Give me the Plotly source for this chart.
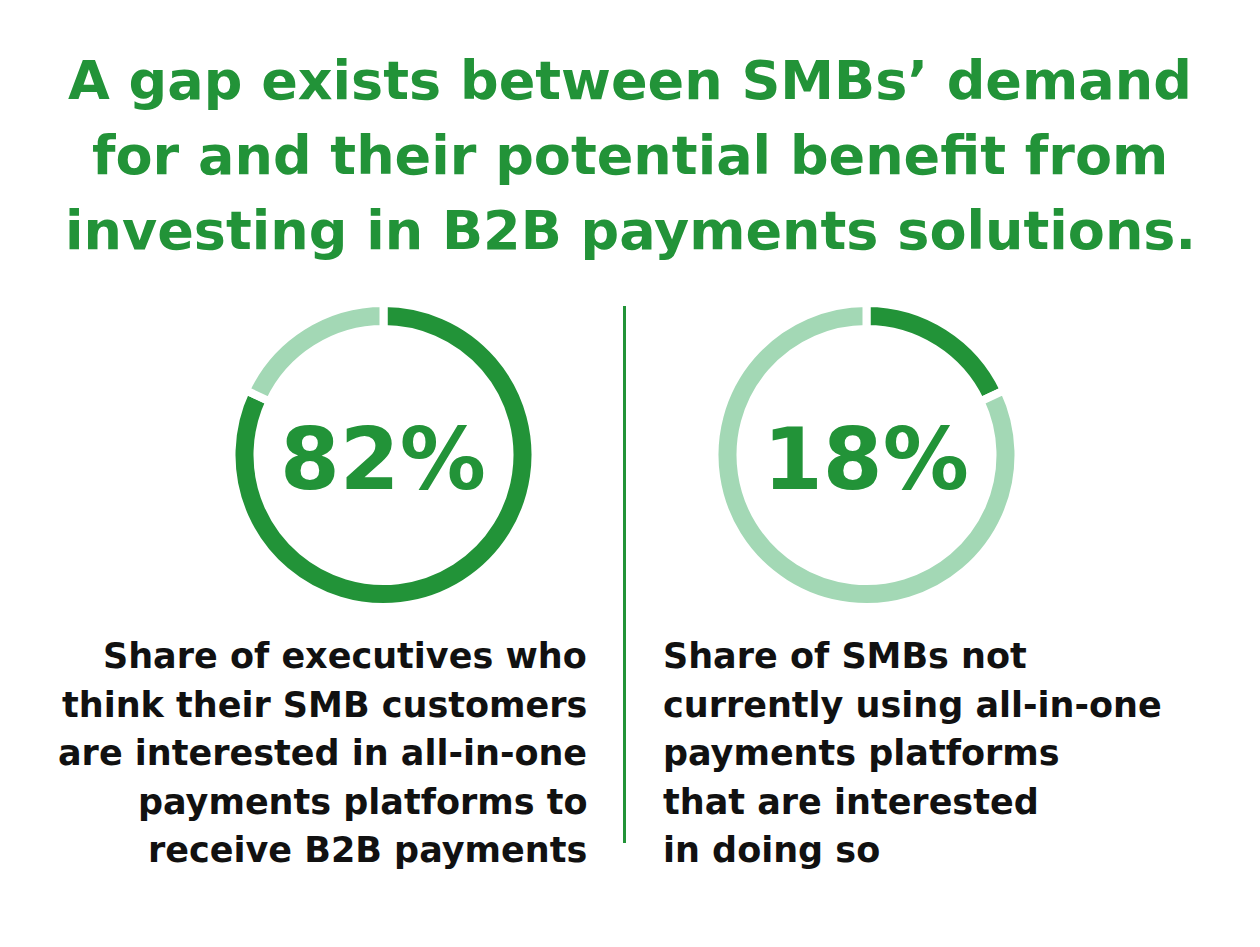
import plotly.graph_objects as go

# page body has an 8px default margin; figure sized to fit the window
PAGE_W, PAGE_H = 1260, 947
OFF = 8
W, H = PAGE_W - 2 * OFF, PAGE_H - 2 * OFF

# ---- data ----
donut_labels = ["Yes", "Other"]
left_values = [82, 18]
right_values = [18, 82]
left_pct = "82%"
right_pct = "18%"
title_lines = [
    "A gap exists between SMBs\u2019 demand",
    "for and their potential benefit from",
    "investing in B2B payments solutions.",
]
left_caption = [
    "Share of executives who",
    "think their SMB customers",
    "are interested in all-in-one",
    "payments platforms to",
    "receive B2B payments",
]
right_caption = [
    "Share of SMBs not",
    "currently using all-in-one",
    "payments platforms",
    "that are interested",
    "in doing so",
]

DARK = "#229338"
LIGHT = "#A3D8B5"
TXT = "#111111"
FONT = "DejaVu Sans"


def px(x):
    return (x - OFF) / W


def py(y):
    return 1 - (y - OFF) / H


def dom(cx, cy, r):
    return dict(x=[px(cx - r), px(cx + r)], y=[py(cy + r), py(cy - r)])


LW = 8
R = 148 + LW / 2
HOLE = (148 - 18 - LW / 2) / R

fig = go.Figure()
fig.add_trace(go.Pie(
    labels=donut_labels, values=left_values, sort=False, direction="clockwise",
    rotation=0, hole=HOLE, textinfo="none", hoverinfo="skip",
    marker=dict(colors=[DARK, LIGHT], line=dict(color="white", width=LW)),
    domain=dom(383.5, 455, R), showlegend=False,
))
fig.add_trace(go.Pie(
    labels=donut_labels, values=right_values, sort=False, direction="clockwise",
    rotation=0, hole=HOLE, textinfo="none", hoverinfo="skip",
    marker=dict(colors=[DARK, LIGHT], line=dict(color="white", width=LW)),
    domain=dom(866.5, 455, R), showlegend=False,
))

ann = []
title_y = [81, 155, 230]
for t, y in zip(title_lines, title_y):
    ann.append(dict(text=t, x=px(630), y=py(y), xref="paper", yref="paper",
                    xanchor="center", yanchor="middle", showarrow=False,
                    font=dict(family=FONT, size=54, color=DARK, weight=700)))

ann.append(dict(text=left_pct, x=px(383), y=py(459), xref="paper", yref="paper",
                xanchor="center", yanchor="middle", showarrow=False,
                font=dict(family=FONT, size=86, color=DARK, weight=700)))
ann.append(dict(text=right_pct, x=px(866), y=py(459), xref="paper", yref="paper",
                xanchor="center", yanchor="middle", showarrow=False,
                font=dict(family=FONT, size=86, color=DARK, weight=700)))

cap_y = [656, 704.5, 753, 801.5, 850]
for t, y in zip(left_caption, cap_y):
    ann.append(dict(text=t, x=px(589), y=py(y), xref="paper", yref="paper",
                    xanchor="right", yanchor="middle", showarrow=False,
                    font=dict(family=FONT, size=35, color=TXT, weight=700)))
for t, y in zip(right_caption, cap_y):
    ann.append(dict(text=t, x=px(661), y=py(y), xref="paper", yref="paper",
                    xanchor="left", yanchor="middle", showarrow=False,
                    font=dict(family=FONT, size=35, color=TXT, weight=700)))

fig.update_layout(
    width=W, height=H,
    margin=dict(l=0, r=0, t=0, b=0),
    paper_bgcolor="white", plot_bgcolor="white",
    annotations=ann,
    shapes=[dict(type="line", xref="paper", yref="paper",
                 x0=px(624.5), x1=px(624.5), y0=py(306), y1=py(843),
                 line=dict(color=DARK, width=3))],
)

fig.write_html("out.html")
